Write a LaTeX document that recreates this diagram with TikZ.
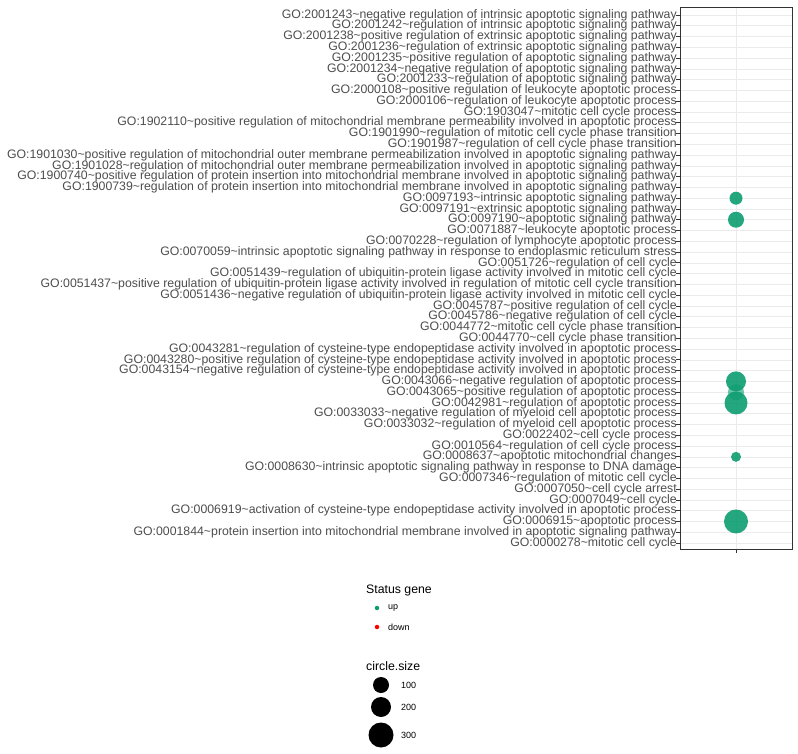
\documentclass[tikz,border=0pt]{standalone}
\usepackage{fontspec}
\setmainfont{Liberation Sans}
\definecolor{axgrey}{HTML}{4D4D4D}
\definecolor{gridc}{HTML}{EBEBEB}
\definecolor{upc}{HTML}{0C9C70}
\begin{document}
\begin{tikzpicture}[x=1pt,y=-1pt,
  lab/.style={anchor=east,inner sep=0pt,text=axgrey,font=\fontsize{12.3}{12}\selectfont},
  dotc/.style={circle,fill=upc,fill opacity=0.9,inner sep=0pt,draw=none},
  legt/.style={anchor=west,inner sep=0pt,font=\fontsize{12.3}{13}\selectfont},
  legs/.style={anchor=west,inner sep=0pt,font=\fontsize{9}{10}\selectfont}]
\useasboundingbox (0,0) rectangle (798,754);
\def\dy{10.776}
\foreach [count=\i] \g/\t in {
2001243/negative regulation of intrinsic apoptotic signaling pathway,
2001242/regulation of intrinsic apoptotic signaling pathway,
2001238/positive regulation of extrinsic apoptotic signaling pathway,
2001236/regulation of extrinsic apoptotic signaling pathway,
2001235/positive regulation of apoptotic signaling pathway,
2001234/negative regulation of apoptotic signaling pathway,
2001233/regulation of apoptotic signaling pathway,
2000108/positive regulation of leukocyte apoptotic process,
2000106/regulation of leukocyte apoptotic process,
1903047/mitotic cell cycle process,
1902110/positive regulation of mitochondrial membrane permeability involved in apoptotic process,
1901990/regulation of mitotic cell cycle phase transition,
1901987/regulation of cell cycle phase transition,
1901030/positive regulation of mitochondrial outer membrane permeabilization involved in apoptotic signaling pathway,
1901028/regulation of mitochondrial outer membrane permeabilization involved in apoptotic signaling pathway,
1900740/positive regulation of protein insertion into mitochondrial membrane involved in apoptotic signaling pathway,
1900739/regulation of protein insertion into mitochondrial membrane involved in apoptotic signaling pathway,
0097193/intrinsic apoptotic signaling pathway,
0097191/extrinsic apoptotic signaling pathway,
0097190/apoptotic signaling pathway,
0071887/leukocyte apoptotic process,
0070228/regulation of lymphocyte apoptotic process,
0070059/intrinsic apoptotic signaling pathway in response to endoplasmic reticulum stress,
0051726/regulation of cell cycle,
0051439/regulation of ubiquitin-protein ligase activity involved in mitotic cell cycle,
0051437/positive regulation of ubiquitin-protein ligase activity involved in regulation of mitotic cell cycle transition,
0051436/negative regulation of ubiquitin-protein ligase activity involved in mitotic cell cycle,
0045787/positive regulation of cell cycle,
0045786/negative regulation of cell cycle,
0044772/mitotic cell cycle phase transition,
0044770/cell cycle phase transition,
0043281/regulation of cysteine-type endopeptidase activity involved in apoptotic process,
0043280/positive regulation of cysteine-type endopeptidase activity involved in apoptotic process,
0043154/negative regulation of cysteine-type endopeptidase activity involved in apoptotic process,
0043066/negative regulation of apoptotic process,
0043065/positive regulation of apoptotic process,
0042981/regulation of apoptotic process,
0033033/negative regulation of myeloid cell apoptotic process,
0033032/regulation of myeloid cell apoptotic process,
0022402/cell cycle process,
0010564/regulation of cell cycle process,
0008637/apoptotic mitochondrial changes,
0008630/intrinsic apoptotic signaling pathway in response to DNA damage,
0007346/regulation of mitotic cell cycle,
0007050/cell cycle arrest,
0007049/cell cycle,
0006919/activation of cysteine-type endopeptidase activity involved in apoptotic process,
0006915/apoptotic process,
0001844/protein insertion into mitochondrial membrane involved in apoptotic signaling pathway,
0000278/mitotic cell cycle}{
  \pgfmathsetmacro\yy{15+(\i-1)*\dy}
  \draw[gridc,line width=0.6pt] (680,\yy) -- (792,\yy);
  \draw[axgrey!70!black,line width=0.8pt] (676,\yy) -- (680,\yy);
  \node[lab] (l\i) at (677,\yy) {GO:\g\textasciitilde\t};
}
\draw[gridc,line width=0.6pt] (736,8) -- (736,549);
\draw[axgrey!70!black,line width=0.8pt] (736,549) -- (736,553);
\draw[black!80,line width=1pt] (680,8) rectangle (792,549);
% dots
\node[dotc,minimum size=13pt] (d18) at (736,{15+17*\dy}) {};
\node[dotc,minimum size=16pt] (d20) at (736,{15+19*\dy}) {};
\node[dotc,minimum size=16pt,fill opacity=0.6] (d36) at (736,{15+35*\dy}) {};
\node[dotc,minimum size=20pt] (d35) at (736,{15+34*\dy}) {};
\node[dotc,minimum size=23pt] (d37) at (736,{15+36*\dy}) {};
\node[dotc,minimum size=10pt] (d42) at (736,{15+41*\dy}) {};
\node[dotc,minimum size=24pt] (d48) at (736,{15+47*\dy}) {};
% legend
\node[legt] (st) at (366,590) {Status gene};
\node[circle,fill=upc,inner sep=0pt,minimum size=4.5pt] (lu) at (377,608) {};
\node[legs] (tu) at (388,608) {up};
\node[circle,fill=red,inner sep=0pt,minimum size=4.5pt] (ld) at (377,627) {};
\node[legs] (td) at (388,627) {down};
\node[legt] (cs) at (366,666) {circle.size};
\node[circle,fill=black,inner sep=0pt,minimum size=16pt] (c1) at (381,685) {};
\node[legs] (t1) at (401,685) {100};
\node[circle,fill=black,inner sep=0pt,minimum size=20pt] (c2) at (381,707) {};
\node[legs] (t2) at (401,707) {200};
\node[circle,fill=black,inner sep=0pt,minimum size=25pt] (c3) at (381,735) {};
\node[legs] (t3) at (401,735) {300};
\end{tikzpicture}
\end{document}
